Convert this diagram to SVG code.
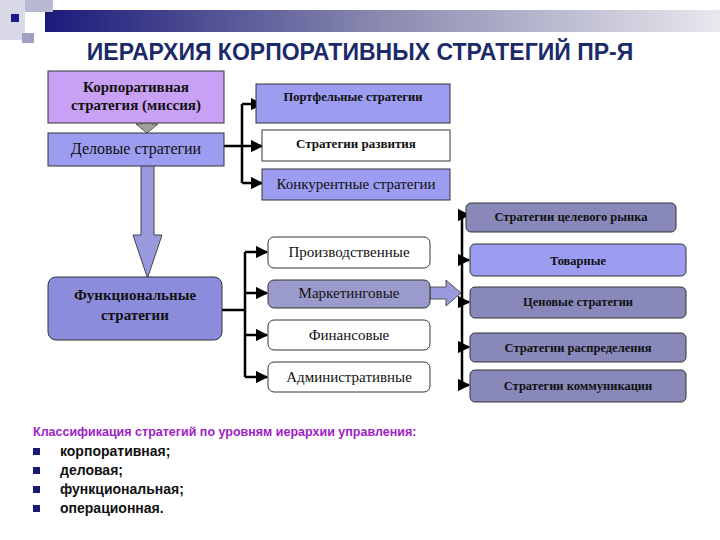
<svg xmlns="http://www.w3.org/2000/svg" width="720" height="540" viewBox="0 0 720 540">
<defs>
<linearGradient id="bar" x1="0" x2="1" y1="0" y2="0"><stop offset="0" stop-color="#1a1a7a"/><stop offset="0.5" stop-color="#8a8ab0"/><stop offset="1" stop-color="#e8e8ee"/></linearGradient>
<marker id="ah" viewBox="0 0 10 10" refX="9" refY="5" markerWidth="5" markerHeight="5" orient="auto"><path d="M0,0L10,5L0,10z" fill="#000"/></marker>
<style>
.s{font-family:"Liberation Serif",serif;text-anchor:middle;fill:#111}
.b{font-weight:bold}
.box{stroke:#333;stroke-width:1}
.ln{stroke:#000;stroke-width:2.5;fill:none}
.ar{stroke:#000;stroke-width:2.5;fill:none;marker-end:url(#ah)}
.bl{font-family:"Liberation Sans",sans-serif;font-size:14px;font-weight:bold;fill:#111}
</style>
</defs>
<rect x="0" y="0" width="720" height="540" fill="#fff"/>
<rect x="45" y="10" width="675" height="22" fill="url(#bar)"/>
<rect x="0" y="0" width="25" height="40" fill="#d8d8e6"/>
<rect x="25" y="0" width="28" height="12" fill="#b8b8d0"/>
<rect x="22" y="33" width="12" height="10" fill="#a0a0c0"/>
<rect x="11" y="14" width="8" height="8" fill="#1a1a8a"/>
<text x="360" y="60" text-anchor="middle" font-family="Liberation Sans,sans-serif" font-size="23" font-weight="bold" fill="#1c2a6a">ИЕРАРХИЯ КОРПОРАТИВНЫХ СТРАТЕГИЙ ПР-Я</text>
<g id="connectors">
<path class="ln" d="M224,146H242M242,104V183"/>
<path class="ar" d="M242,104H262"/><path class="ar" d="M242,146H262"/><path class="ar" d="M242,183H262"/>
<path class="ln" d="M222,310H245M245,252V377"/>
<path class="ar" d="M245,252H267"/><path class="ar" d="M245,293H267"/><path class="ar" d="M245,335H267"/><path class="ar" d="M245,377H267"/>
<path class="ln" d="M462,215V387"/>
<path class="ar" d="M462,215H469"/><path class="ar" d="M462,260H469"/><path class="ar" d="M462,302H469"/><path class="ar" d="M462,347H469"/><path class="ar" d="M462,385H469"/>
<path d="M430,287H446V280L461,293L446,306V299H430z" fill="#9999dd" stroke="#555"/>
<path d="M142,113H152V124H158L147,133L136,124H142z" fill="#a0a0a0" stroke="#555"/>
<path d="M141,155H154V235H162L147.5,278L133,235H141z" fill="#9999dd" stroke="#444"/>
</g>
<g id="corp"><rect class="box" x="48" y="71" width="176" height="52" fill="#c8a0f4"/><text class="s b" x="136" y="92" style="font-size:15px">Корпоративная</text><text class="s b" x="136" y="110" style="font-size:15px">стратегия (миссия)</text></g>
<g id="business"><rect class="box" x="48" y="133" width="176" height="33" fill="#9c9cf0"/><text class="s" x="136" y="154" style="font-size:16px">Деловые стратегии</text></g>
<g id="portfolio"><rect class="box" x="256" y="84" width="194" height="39" fill="#9c9cf0"/><text class="s b" x="353" y="101" style="font-size:12.5px">Портфельные стратегии</text></g>
<g id="development"><rect class="box" x="262" y="130" width="188" height="31" fill="#fff"/><text class="s b" x="356" y="148" style="font-size:13px">Стратегии развития</text></g>
<g id="competitive"><rect class="box" x="262" y="169" width="188" height="31" fill="#9c9cf0"/><text class="s" x="356" y="189" style="font-size:15px">Конкурентные стратегии</text></g>
<g id="functional"><rect class="box" x="48" y="277" width="174" height="63" rx="8" fill="#8c8cdc"/><text class="s b" x="135" y="300" style="font-size:15px">Функциональные</text><text class="s b" x="135" y="320" style="font-size:15px">стратегии</text></g>
<g id="production"><rect class="box" x="268" y="237" width="162" height="31" rx="6" fill="#fff"/><text class="s" x="349" y="257" style="font-size:15px">Производственные</text></g>
<g id="marketing"><rect class="box" x="268" y="280" width="162" height="28" rx="6" fill="#9a9acc"/><text class="s" x="349" y="298" style="font-size:15px">Маркетинговые</text></g>
<g id="finance"><rect class="box" x="268" y="320" width="162" height="30" rx="6" fill="#fff"/><text class="s" x="349" y="340" style="font-size:15px">Финансовые</text></g>
<g id="admin"><rect class="box" x="268" y="362" width="162" height="30" rx="6" fill="#fff"/><text class="s" x="349" y="382" style="font-size:15px">Административные</text></g>
<g id="target"><rect class="box" x="466" y="203" width="210" height="29" rx="5" fill="#8888bb"/><text class="s b" x="571" y="221" style="font-size:12.5px">Стратегии целевого рынка</text></g>
<g id="product"><rect class="box" x="470" y="244" width="216" height="32" rx="5" fill="#9c9cf0"/><text class="s b" x="578" y="265" style="font-size:12.5px">Товарные</text></g>
<g id="price"><rect class="box" x="470" y="287" width="216" height="31" rx="5" fill="#8888bb"/><text class="s b" x="578" y="306" style="font-size:12.5px">Ценовые стратегии</text></g>
<g id="distribution"><rect class="box" x="470" y="333" width="216" height="29" rx="5" fill="#8888bb"/><text class="s b" x="578" y="352" style="font-size:12.5px">Стратегии распределения</text></g>
<g id="communication"><rect class="box" x="470" y="370" width="216" height="32" rx="5" fill="#8888bb"/><text class="s b" x="578" y="390" style="font-size:12.5px">Стратегии коммуникации</text></g>
<text x="33" y="436" font-family="Liberation Sans,sans-serif" font-size="12.5" font-weight="bold" fill="#a020c8">Классификация стратегий по уровням иерархии управления:</text>
<g fill="#1a1a7a"><rect x="33" y="448" width="7" height="7"/><rect x="33" y="467" width="7" height="7"/><rect x="33" y="486" width="7" height="7"/><rect x="33" y="505" width="7" height="7"/></g>
<text class="bl" x="60" y="456">корпоративная;</text>
<text class="bl" x="60" y="475">деловая;</text>
<text class="bl" x="60" y="494">функциональная;</text>
<text class="bl" x="60" y="513">операционная.</text>
</svg>
